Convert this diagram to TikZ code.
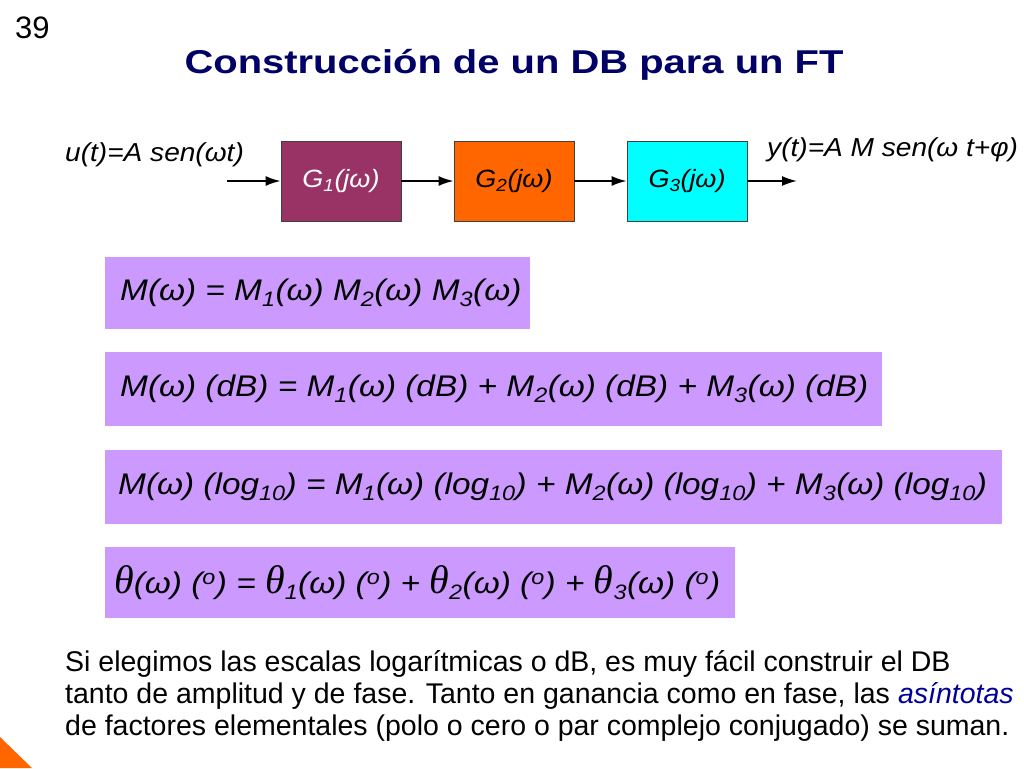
\documentclass[tikz,border=0pt]{standalone}
\usepackage{fontspec}
\setmainfont{Liberation Sans}
\newfontfamily\eqf[FakeStretch=1.12]{Liberation Sans}
\newfontfamily\ttlf[FakeStretch=1.21]{Liberation Sans}
\newfontfamily\lblf[FakeStretch=1.08]{Liberation Sans}
\newfontfamily\thf{Liberation Serif}
\usetikzlibrary{arrows.meta}
\definecolor{plum}{RGB}{153,51,102}
\definecolor{orng}{RGB}{255,102,0}
\definecolor{cyn}{RGB}{0,255,255}
\definecolor{lil}{RGB}{204,153,255}
\definecolor{navy}{RGB}{0,0,102}
\definecolor{asblue}{RGB}{0,0,153}
\newcommand{\sbx}[1]{\textsubscript{#1}}
\newcommand{\dg}{(\textsuperscript{o})}
\newcommand{\thet}{{\thf\itshape\fontsize{40}{40}\selectfont θ}}
\begin{document}
\begin{tikzpicture}[x=1pt,y=-1pt,
  blk/.style={draw=black!75, line width=0.8pt, minimum width=120pt, minimum height=80pt, inner sep=0pt,
    font=\lblf\fontsize{25}{28}\selectfont\itshape},
  lbl/.style={font=\lblf\fontsize{26}{28}\selectfont\itshape, inner sep=0pt},
  eqbox/.style={fill=lil, anchor=north west, inner sep=0pt},
  eqtxt/.style={anchor=west, inner sep=0pt, font=\eqf\fontsize{29.8}{34}\selectfont\itshape},
  bodyln/.style={anchor=base west, inner sep=0pt, font=\fontsize{28.5}{32}\selectfont},
  arr/.style={line width=1.8pt, -{Latex[length=15pt,width=10pt]}}]
\useasboundingbox (0,0) rectangle (1024,768);
% corner triangle
\fill[orng] (0,737) -- (32,768) -- (0,768) -- cycle;
% page number and title
\node[font=\fontsize{31}{34}\selectfont, anchor=base west, inner sep=0pt] (num) at (15,39) {39};
\node[font=\ttlf\fontsize{33}{40}\selectfont\bfseries, text=navy, inner sep=0pt, anchor=base] (title) at (514,73) {Construcción de un DB para un FT};
% blocks
\node[blk, fill=plum, text=white] (g1) at (341,181) {G\sbx{1}(jω)};
\node[blk, fill=orng] (g2) at (514,181) {G\sbx{2}(jω)};
\node[blk, fill=cyn] (g3) at (687,181) {G\sbx{3}(jω)};
\coordinate (in) at (227,181);
\coordinate (out) at (797,181);
\draw[arr] (in) -- (g1);
\draw[arr] (g1) -- (g2);
\draw[arr] (g2) -- (g3);
\draw[arr] (g3) -- (out);
\node[lbl, anchor=base west] (u) at (65,161) {u(t)=A sen(ωt)};
\node[lbl, anchor=base west] (y) at (767,156) {y(t)=A M sen(ω t+φ)};
% equation boxes
\node[eqbox, minimum width=425pt, minimum height=72pt] (e1) at (105,257) {};
\node[eqtxt] (t1) at ([xshift=15pt]e1.west) {M(ω) = M\sbx{1}(ω) M\sbx{2}(ω) M\sbx{3}(ω)};
\node[eqbox, minimum width=777pt, minimum height=74pt] (e2) at (105,352) {};
\node[eqtxt] (t2) at ([xshift=15pt]e2.west) {M(ω) (dB) = M\sbx{1}(ω) (dB) + M\sbx{2}(ω) (dB) + M\sbx{3}(ω) (dB)};
\node[eqbox, minimum width=897pt, minimum height=74pt] (e3) at (105,450) {};
\node[eqtxt] (t3) at ([xshift=13pt]e3.west) {M(ω) (log\sbx{10}) = M\sbx{1}(ω) (log\sbx{10}) + M\sbx{2}(ω) (log\sbx{10}) + M\sbx{3}(ω) (log\sbx{10})};
\node[eqbox, minimum width=630pt, minimum height=71pt] (e4) at (105,547) {};
\node[eqtxt] (t4) at ([xshift=9pt]e4.west) {\thet(ω) \dg{} = \thet\sbx{1}(ω) \dg{} + \thet\sbx{2}(ω) \dg{} + \thet\sbx{3}(ω) \dg};
% body text
\node[bodyln] (l1) at (65,671) {Si elegimos las escalas logarítmicas o dB, es muy fácil construir el DB};
\node[bodyln] (l2) at (65,703) {tanto de amplitud y de fase. Tanto en ganancia como en fase, las \textcolor{asblue}{\itshape asíntotas}};
\node[bodyln] (l3) at (65,735) {de factores elementales (polo o cero o par complejo conjugado) se suman.};
\end{tikzpicture}
\end{document}
